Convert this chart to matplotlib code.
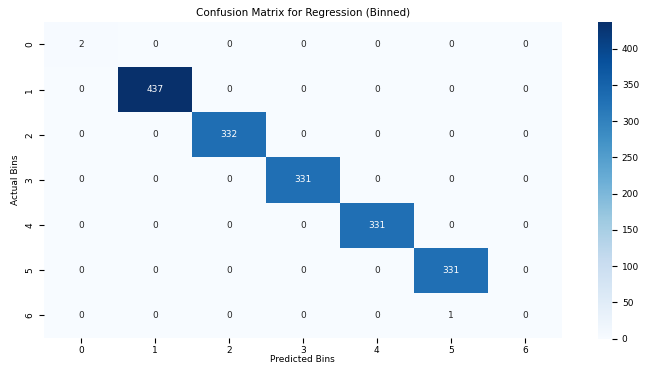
import numpy as np
import matplotlib
matplotlib.use('Agg')
import matplotlib.pyplot as plt
import seaborn as sns

bins = [0, 1, 2, 3, 4, 5, 6]
# rows = actual bin, cols = predicted bin
cm_row0 = [2, 0, 0, 0, 0, 0, 0]
cm_row1 = [0, 437, 0, 0, 0, 0, 0]
cm_row2 = [0, 0, 332, 0, 0, 0, 0]
cm_row3 = [0, 0, 0, 331, 0, 0, 0]
cm_row4 = [0, 0, 0, 0, 331, 0, 0]
cm_row5 = [0, 0, 0, 0, 0, 331, 0]
cm_row6 = [0, 0, 0, 0, 0, 1, 0]

cm = np.array([cm_row0, cm_row1, cm_row2, cm_row3, cm_row4, cm_row5, cm_row6])

plt.rcParams['font.size'] = 6.5
fig = plt.figure(figsize=(6.45, 3.65), dpi=100)
ax = fig.add_axes([0.068, 0.074, 0.803, 0.866])
cax = fig.add_axes([0.927, 0.072, 0.022, 0.868])

sns.heatmap(cm, annot=True, fmt='d', cmap='Blues', ax=ax, cbar_ax=cax,
            xticklabels=bins, yticklabels=bins, annot_kws={'fontsize': 6.5})
ax.set_title('Confusion Matrix for Regression (Binned)', fontsize=7.5, pad=4)
ax.set_xlabel('Predicted Bins', fontsize=6.5, labelpad=0)
ax.set_ylabel('Actual Bins', fontsize=6.5)
ax.tick_params(axis='x', pad=2.5)
cax.tick_params(labelsize=6.5)

fig.savefig('out.png', dpi=100)
